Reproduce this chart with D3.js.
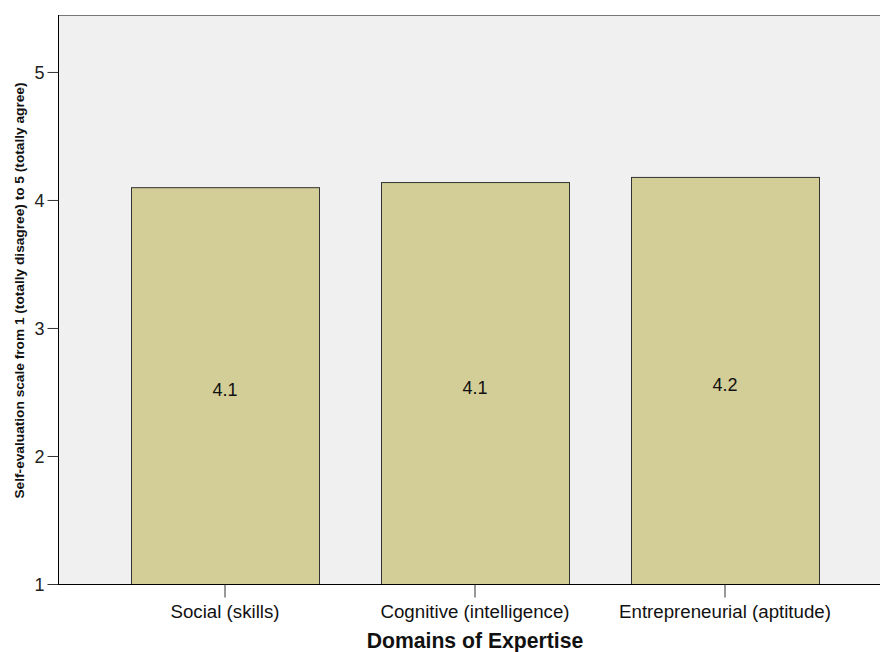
<!DOCTYPE html>
<html><head><meta charset="utf-8">
<script src="https://cdn.jsdelivr.net/npm/d3@7"></script>
<style>body{margin:0;background:#fff;} text{font-family:Arial,"Liberation Sans",sans-serif;}</style>
</head><body>
<svg id="c" width="880" height="652"></svg>
<script>
const categories = ["Social (skills)", "Cognitive (intelligence)", "Entrepreneurial (aptitude)"];
const values = [4.10, 4.14, 4.18];
const valueLabels = ["4.1", "4.1", "4.2"];
const yTicks = [1, 2, 3, 4, 5];

const svg = d3.select("#c");
const L = 58, T = 15, R = 880, B = 584;
const x = d3.scaleBand().domain(categories).range([100, 850]).paddingInner(0.248).paddingOuter(0.124);
const y = d3.scaleLinear().domain([1, 5.445]).range([B, T]);

svg.append("rect").attr("x", L).attr("y", T).attr("width", R - L).attr("height", B - T).attr("fill", "#f0f0f0");
svg.append("line").attr("x1", L).attr("x2", R).attr("y1", T + 0.5).attr("y2", T + 0.5).attr("stroke", "#777");

svg.selectAll("rect.bar").data(values).enter().append("rect").attr("class", "bar")
  .attr("x", (d, i) => x(categories[i]) + 0.5)
  .attr("y", d => y(d) + 0.5)
  .attr("width", x.bandwidth())
  .attr("height", d => B - y(d))
  .attr("fill", "#d3ce97").attr("stroke", "#333").attr("stroke-width", 1);

svg.selectAll("text.vl").data(values).enter().append("text").attr("class", "vl")
  .attr("x", (d, i) => x(categories[i]) + x.bandwidth() / 2)
  .attr("y", d => (y(d) + B) / 2 + 10.5)
  .attr("text-anchor", "middle").attr("font-size", 18).attr("fill", "#111")
  .text((d, i) => valueLabels[i]);

const ya = svg.append("g").attr("transform", `translate(${L + 0.5},0)`)
  .call(d3.axisLeft(y).tickValues(yTicks).tickFormat(d3.format("d")).tickSize(11).tickPadding(3));
ya.select(".domain").attr("stroke", "#000").attr("d", `M0,${T}V${B}`);
ya.selectAll(".tick line").attr("stroke", "#333");
ya.selectAll(".tick text").attr("font-size", 18).attr("fill", "#222").attr("dy", "0.36em").attr("font-family", "Arial, 'Liberation Sans', sans-serif");

const xa = svg.append("g").attr("transform", `translate(0,${B + 0.5})`)
  .call(d3.axisBottom(x).tickSize(13).tickPadding(0));
xa.select(".domain").attr("stroke", "#000").attr("d", `M${L},0H${R}`);
xa.selectAll(".tick line").attr("stroke", "#333");
xa.selectAll(".tick text").attr("font-size", 18.7).attr("fill", "#111").attr("dy", null).attr("y", 33)
  .attr("font-family", "Arial, 'Liberation Sans', sans-serif");

svg.append("text").attr("x", 475).attr("y", 648).attr("text-anchor", "middle")
  .attr("font-size", 21.2).attr("font-weight", "bold").attr("fill", "#111").text("Domains of Expertise");

svg.append("text").attr("transform", `translate(24,290.5) rotate(-90)`).attr("text-anchor", "middle")
  .attr("font-size", 13.7).attr("font-weight", "bold").attr("fill", "#111")
  .text("Self-evaluation scale from 1 (totally disagree) to 5 (totally agree)");
</script>
</body></html>
